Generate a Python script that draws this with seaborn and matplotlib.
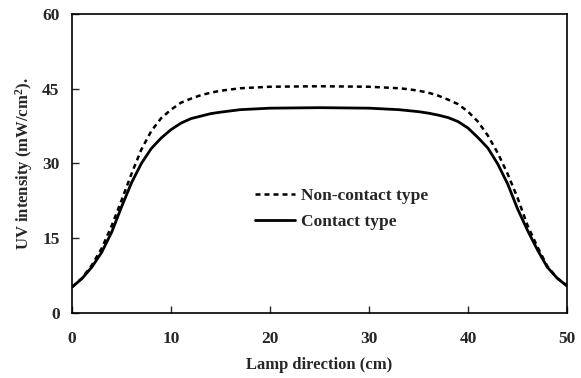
import matplotlib
matplotlib.use("Agg")
import matplotlib.pyplot as plt
import seaborn as sns
import pandas as pd

# Data
x_cm = [0, 1, 2, 3, 4, 5, 6, 7, 8, 9, 10, 11, 12, 13, 14, 15, 17, 20, 25,
        30, 33, 34, 35, 36, 37, 38, 39, 40, 41, 42, 43, 44, 45, 46, 47, 48, 49, 50]
contact = [5.2, 6.9, 9.2, 12.2, 16.2, 21.3, 26.1, 30.0, 33.0, 35.1, 36.8, 38.1,
           39.0, 39.5, 40.0, 40.3, 40.8, 41.1, 41.2,
           41.1, 40.8, 40.6, 40.4, 40.1, 39.7, 39.2, 38.4, 37.1, 35.2, 33.1, 29.9,
           25.9, 20.9, 16.6, 12.7, 9.2, 7.0, 5.4]
non_contact = [5.2, 7.0, 9.6, 13.0, 17.5, 22.6, 27.9, 32.8, 36.5, 39.1, 40.8, 42.2,
               43.0, 43.7, 44.2, 44.6, 45.1, 45.4, 45.5,
               45.4, 45.1, 44.9, 44.6, 44.2, 43.6, 42.8, 41.9, 40.4, 38.4, 35.6, 32.1,
               27.9, 23.1, 17.6, 13.3, 9.4, 7.0, 5.5]
series_names = ["Non-contact type", "Contact type"]
x_ticks = [0, 10, 20, 30, 40, 50]
y_ticks = [0, 15, 30, 45, 60]

sns.set_theme(style="white")
plt.rcParams["font.family"] = ["Liberation Serif", "DejaVu Serif"]
plt.rcParams["font.weight"] = "bold"
plt.rcParams["mathtext.fontset"] = "custom"
plt.rcParams["mathtext.rm"] = "Liberation Serif:bold"
plt.rcParams["mathtext.bf"] = "Liberation Serif:bold"
plt.rcParams["mathtext.it"] = "Liberation Serif:bold"

fig = plt.figure(figsize=(5.81, 3.78), dpi=100)
ax = fig.add_axes([0.124, 0.172, 0.852, 0.791])

df_nc = pd.DataFrame({"x": x_cm, "y": non_contact})
df_c = pd.DataFrame({"x": x_cm, "y": contact})

sns.lineplot(data=df_nc, x="x", y="y", ax=ax, color="black", lw=1.8,
             linestyle=(0, (2.0, 1.6)), label=series_names[0])
sns.lineplot(data=df_c, x="x", y="y", ax=ax, color="black", lw=2.0,
             label=series_names[1])

ax.set_xlim(0, 50)
ax.set_ylim(0, 60)
ax.set_xticks(x_ticks)
ax.set_yticks(y_ticks)
ax.tick_params(axis="x", direction="in", length=5, width=1, pad=13,
               labelsize=12.5, bottom=True, top=False)
ax.tick_params(axis="y", direction="in", length=5, width=1, pad=9,
               labelsize=12.5, left=True, right=False)
for lab in ax.get_xticklabels() + ax.get_yticklabels():
    lab.set_fontweight("bold")
for sp in ax.spines.values():
    sp.set_visible(True)
    sp.set_color("black")
    sp.set_linewidth(1.2)

ax.set_xlabel("Lamp direction (cm)", fontsize=12, fontweight="bold", labelpad=7)
ax.set_ylabel("UV intensity (mW/cm$^{2}$).", fontsize=12, fontweight="bold",
              labelpad=5)

leg = ax.legend(loc="center left", bbox_to_anchor=(0.37, 0.348), frameon=False,
                fontsize=12.5, handlelength=2.3, handletextpad=0.35,
                labelspacing=0.6, borderpad=0, borderaxespad=0)
for t in leg.get_texts():
    t.set_fontweight("bold")

fig.savefig("out.png", dpi=100)
